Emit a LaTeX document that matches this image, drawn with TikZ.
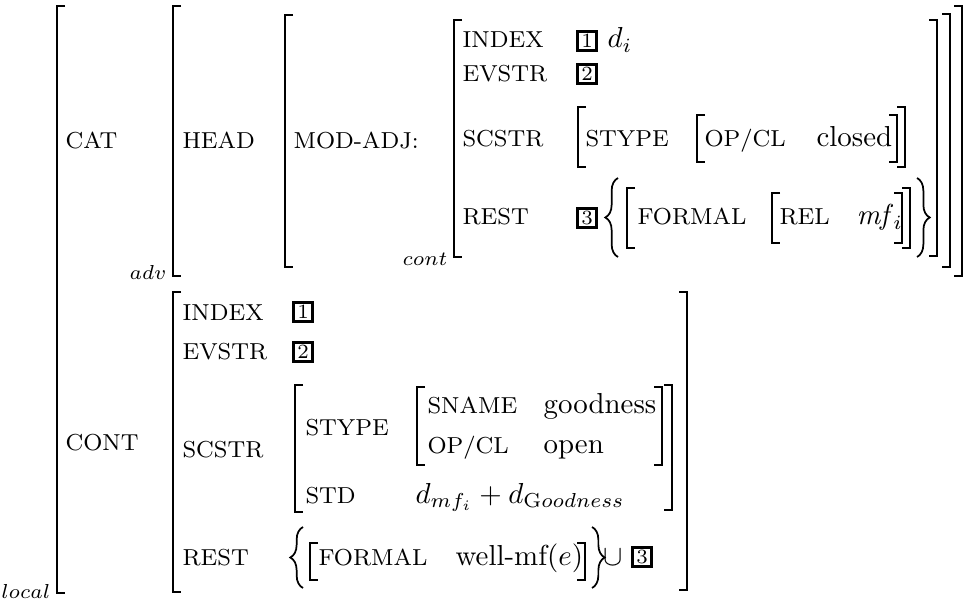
\documentclass[tikz,border=0pt]{standalone}
\usepackage{amsmath,amssymb}
\usetikzlibrary{decorations.pathreplacing}

\begin{document}
\begin{tikzpicture}[x=0.346pt,y=-0.346pt,
    feat/.style={anchor=base west,inner sep=0pt,font=\footnotesize},
    val/.style={anchor=base west,inner sep=0pt},
    typ/.style={anchor=base east,inner sep=0pt,font=\scriptsize},
    tag/.style={draw,line width=0.9pt,inner sep=0.5pt,minimum size=6.6pt,font=\scriptsize},
    brk/.style={line width=0.65pt},
    brc/.style={line width=0.6pt,decorate,decoration={brace,amplitude=4.4pt}}]
    \useasboundingbox (0,0) rectangle (969,607);

    % left brackets: x/top/bottom
    \foreach \x/\t/\b in {57/6/593,173/6/276,285/15/267,454/20/257,578/107/167,697/115/162,
                          627/188/248,772/193/243,173/292/592,295/385/512,417/387/465,310/543/580}
        \draw[brk] (\x+8,\t) -- (\x,\t) -- (\x,\b) -- (\x+8,\b);
    % right brackets
    \foreach \x/\t/\b in {937/20/256,950/14/267,962/6/276,897/115/162,905/107/167,902/193/243,
                          910/188/248,687/292/590,662/387/465,672/385/510,585/543/580}
        \draw[brk] (\x-8,\t) -- (\x,\t) -- (\x,\b) -- (\x-8,\b);
    % set braces
    \draw[brc] (618,257) -- (618,178);
    \draw[brc] (917,178) -- (917,257);
    \draw[brc] (303,588) -- (303,527);
    \draw[brc] (592,527) -- (592,588);

    % types
    \node[typ] (local) at (51,598) {$local$};
    \node[typ] (adv) at (167,280) {$adv$};
    \node[typ] (conttype) at (448,266) {$cont$};

    % CAT|HEAD|MOD-ADJ
    \node[feat] (cat) at (65,149) {CAT};
    \node[feat] (head) at (182,149) {HEAD};
    \node[feat] (modadj) at (293,149) {MOD-ADJ:};
    \node[feat] (index) at (462,48) {INDEX};
    \node[tag] (tagone) at (587,41) {1};
    \node[val] (di) at (607,48) {$d_i$};
    \node[feat] (evstr) at (462,82) {EVSTR};
    \node[tag] (tagtwo) at (587,74) {2};
    \node[feat] (scstr) at (462,147) {SCSTR};
    \node[feat] (stype) at (585,147) {STYPE};
    \node[feat] (opcl) at (704,147) {OP/CL};
    \node[val] (closed) at (816,147) {closed};
    \node[feat] (rest) at (462,225) {REST};
    \node[tag] (tagthree) at (587,218) {3};
    \node[feat] (formal) at (637,225) {FORMAL};
    \node[feat] (rel) at (779,225) {REL};
    \node[val] (mf) at (856,225) {\textit{mf}$_i$};

    % CONT
    \node[feat] (cont) at (65,450) {CONT};
    \node[feat] (cindex) at (182,320) {INDEX};
    \node[tag] (ctagone) at (303,312) {1};
    \node[feat] (cevstr) at (182,359) {EVSTR};
    \node[tag] (ctagtwo) at (303,352) {2};
    \node[feat] (cscstr) at (182,457) {SCSTR};
    \node[feat] (cstype) at (305,435) {STYPE};
    \node[feat] (sname) at (427,413) {SNAME};
    \node[val] (goodness) at (543,413) {goodness};
    \node[feat] (copcl) at (427,453) {OP/CL};
    \node[val] (open) at (543,453) {open};
    \node[feat] (std) at (305,503) {STD};
    \node[val] (sum) at (415,503) {$d_{mf_i}+d_{\mathrm{G}oodness}$};
    \node[feat] (crest) at (182,565) {REST};
    \node[feat] (cformal) at (318,565) {FORMAL};
    \node[val] (wellmf) at (455,565) {well-mf$(e)$};
    \node[val] (cup) at (603,565) {$\cup$};
    \node[tag] (ctagthree) at (642,557) {3};
\end{tikzpicture}
\end{document}
